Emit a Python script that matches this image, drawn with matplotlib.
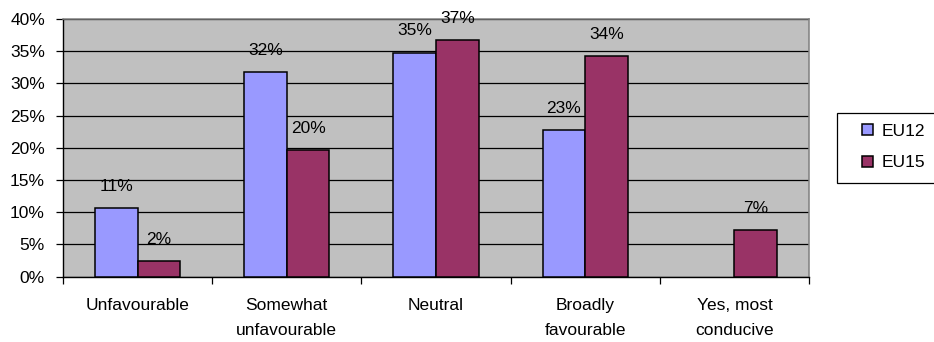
import matplotlib
matplotlib.use("Agg")
import matplotlib.pyplot as plt
from matplotlib.patches import Rectangle
import numpy as np
from matplotlib.ticker import FuncFormatter, MultipleLocator, FixedLocator

plt.rcParams['font.family'] = ['Liberation Sans', 'DejaVu Sans']

categories = ["Unfavourable", "Somewhat\nunfavourable", "Neutral",
              "Broadly\nfavourable", "Yes, most\nconducive"]
eu12 = [10.6, 31.7, 34.7, 22.7, 0.0]
eu15 = [2.4, 19.6, 36.7, 34.2, 7.2]
series_names = ["EU12", "EU15"]
colors = ["#9999FF", "#993366"]

FS = 12.5

fig = plt.figure(figsize=(9.34, 3.42), dpi=100)
ax = fig.add_axes([63 / 934, 1 - 276.7 / 342, (809 - 63) / 934, (276.7 - 19) / 342])
ax.set_facecolor("#C0C0C0")

x = np.arange(len(categories))
w = 0.286
handles = []
for i, (vals, name, c) in enumerate(zip([eu12, eu15], series_names, colors)):
    pos = x + (i - 0.5) * w
    heights = np.array(vals, dtype=float)
    heights[heights == 0] = np.nan  # empty cells draw no bar
    bars = ax.bar(pos, heights, width=w, color=c, edgecolor="black",
                  linewidth=1.1, zorder=3, label=name)
    handles.append(bars)
    for p, v in zip(pos, vals):
        if v > 0:
            ax.annotate(f"{v:.0f}%", (p, v), xytext=(0, 16),
                        textcoords="offset points", ha="center", va="center",
                        fontsize=FS, clip_on=False, zorder=5)

ax.set_xlim(-0.5, len(categories) - 0.5)
ax.set_ylim(0, 40)
ax.yaxis.set_major_locator(MultipleLocator(5))
ax.yaxis.set_major_formatter(FuncFormatter(lambda v, _: f"{v:.0f}%"))
ax.grid(axis="y", color="black", linewidth=0.9, zorder=1)
ax.set_axisbelow(True)

# category labels sit between tick marks placed at group boundaries
ax.xaxis.set_major_locator(FixedLocator(np.arange(-0.5, len(categories), 1.0)))
ax.xaxis.set_major_formatter(FuncFormatter(lambda v, _: ""))
ax.xaxis.set_minor_locator(FixedLocator(x))
ax.set_xticklabels(categories, minor=True)
ax.tick_params(axis="x", which="minor", length=0, pad=15, labelsize=FS)
ax.tick_params(axis="x", which="major", length=5, width=0.9, direction="out")
ax.tick_params(axis="y", length=5, width=0.9, direction="out", pad=8, labelsize=FS)
for lbl in ax.get_xticklabels(minor=True):
    lbl.set_linespacing(1.85)
    lbl.set_va("top")

for side in ["top", "right"]:
    ax.spines[side].set_color("#808080")
    ax.spines[side].set_linewidth(1.1)
for side in ["left", "bottom"]:
    ax.spines[side].set_color("black")
    ax.spines[side].set_linewidth(1.0)

# legend box drawn in figure pixels, entries placed inside it
W, H = 934, 342
fig.patches.append(Rectangle((837 / W, 1 - 183 / H), 110 / W, 70 / H,
                             transform=fig.transFigure, facecolor="white",
                             edgecolor="black", linewidth=0.9, zorder=1))
leg = fig.legend(handles=handles, labels=series_names, loc="center left",
                 bbox_to_anchor=(862 / W, 1 - 147 / H), fontsize=FS,
                 frameon=False, borderpad=0, borderaxespad=0,
                 handlelength=0.62, handleheight=0.62, handletextpad=0.5,
                 labelspacing=0.95)
leg.set_zorder(2)

fig.savefig("out.png", dpi=100)
